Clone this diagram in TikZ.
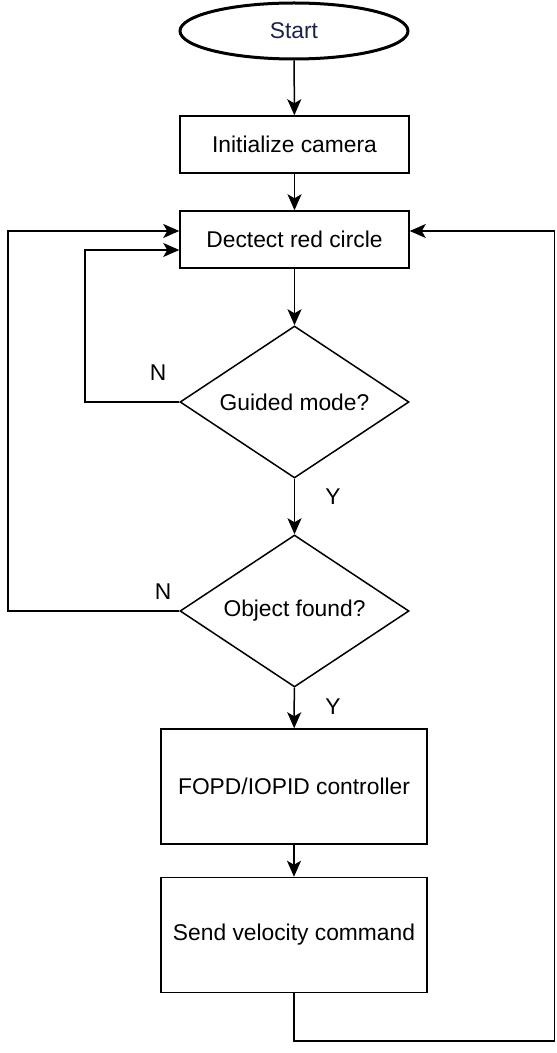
\documentclass[tikz,border=0pt]{standalone}
\usepackage{fontspec}
\setmainfont{Liberation Sans}
\usetikzlibrary{arrows.meta,shapes.geometric}
\definecolor{startblue}{RGB}{25,35,75}

\begin{document}
\begin{tikzpicture}[x=0.5pt,y=-0.5pt,font=\fontsize{11.4}{13}\selectfont]
\tikzset{terminal/.style = {shape=ellipse,draw,line width=1.5pt,minimum width=114pt,minimum height=28pt,inner sep=0pt}}
\tikzset{process/.style = {shape=rectangle,draw,line width=0.75pt,minimum width=114.5pt,minimum height=28.5pt,inner sep=0pt}}
\tikzset{bigprocess/.style = {process,minimum width=133pt,minimum height=57.5pt}}
\tikzset{decision/.style = {shape=diamond,draw,line width=0.75pt,minimum width=114.5pt,minimum height=76pt,aspect=1.5,inner sep=0pt}}
\tikzset{edge/.style = {-{Stealth[length=8pt,width=7pt,inset=2pt]},line width=0.75pt}}
\useasboundingbox (0,0) rectangle (556,1053);
% vertices
\node[terminal,text=startblue] (start) at (294,31) {Start};
\node[process] (init) at (294.5,144.5) {Initialize camera};
\node[process] (detect) at (294.5,239.5) {Dectect red circle};
\node[decision] (guided) at (294.5,402) {Guided mode?};
\node[decision] (found) at (294.5,611) {Object found?};
\node[bigprocess] (ctrl) at (294,786.5) {FOPD/IOPID controller};
\node[bigprocess] (send) at (294,935) {Send velocity command};
% corners of the loops
\coordinate (inL) at (85,250);
\coordinate (outL) at (8,231);
\coordinate (botR) at (554.5,1041);
\coordinate (topR) at (554.5,231);
%edges
\draw[edge] (start) -- (init);
\draw[edge] (init) -- (detect);
\draw[edge] (detect) -- (guided);
\draw[edge] (guided) -- (found);
\draw[edge] (found) -- (ctrl);
\draw[edge] (ctrl) -- (send);
\draw[edge] (guided.west) -| (inL) -- (inL -| detect.west);
\draw[edge] (found.west) -| (outL) -- (outL -| detect.west);
\draw[edge] (send.south) |- (botR) -- (topR) -- (topR -| detect.east);
% labels
\node (n1) at (158,373) {N};
\node (n2) at (163,592) {N};
\node (y1) at (333,497) {Y};
\node (y2) at (333,707) {Y};
\end{tikzpicture}
\end{document}
